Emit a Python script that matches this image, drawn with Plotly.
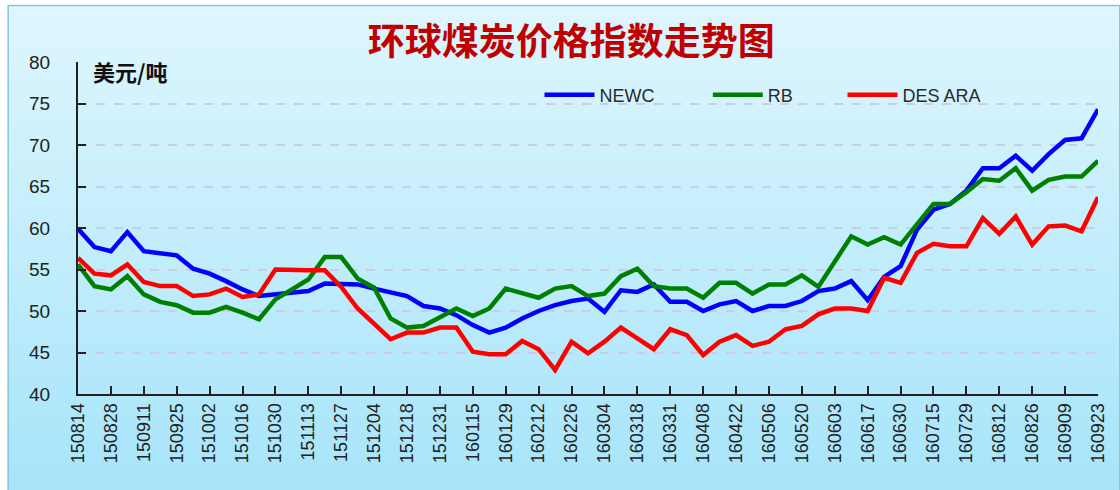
import plotly.graph_objects as go

tick_labels = ["150814", "150828", "150911", "150925", "151002", "151016", "151030", "151113",
               "151127", "151204", "151218", "151231", "160115", "160129", "160212", "160226",
               "160304", "160318", "160331", "160408", "160422", "160506", "160520", "160603",
               "160617", "160630", "160715", "160729", "160812", "160826", "160909", "160923"]

newc = [59.9, 57.7, 57.2, 59.5, 57.2, 57.0, 56.7, 55.1, 54.5, 53.6, 52.6, 51.8, 52.0, 52.2, 52.4, 53.3,
        53.2, 53.2, 52.7, 52.2, 51.8, 50.6, 50.3, 49.5, 48.3, 47.4, 48.0, 49.1, 50.0, 50.7, 51.2, 51.5,
        49.9, 52.5, 52.3, 53.2, 51.1, 51.1, 50.0, 50.8, 51.2, 50.0, 50.6, 50.6, 51.2, 52.4, 52.7, 53.6,
        51.3, 54.1, 55.4, 59.8, 62.2, 62.9, 64.5, 67.2, 67.2, 68.7, 66.9, 68.9, 70.6, 70.8, 74.3]

rb = [55.6, 53.0, 52.6, 54.2, 52.0, 51.1, 50.7, 49.8, 49.8, 50.5, 49.8, 49.0, 51.4, 52.6, 53.8, 56.5,
      56.5, 53.9, 52.8, 49.1, 48.0, 48.2, 49.2, 50.3, 49.4, 50.3, 52.7, 52.1, 51.6, 52.7, 53.0, 51.8,
      52.1, 54.2, 55.1, 53.0, 52.7, 52.7, 51.6, 53.4, 53.4, 52.1, 53.2, 53.2, 54.3, 52.9, 56.0, 59.0,
      58.0, 58.9, 58.0, 60.4, 62.9, 62.9, 64.3, 65.9, 65.7, 67.2, 64.5, 65.8, 66.2, 66.2, 68.1]

des_ara = [56.4, 54.5, 54.3, 55.6, 53.5, 53.0, 53.0, 51.8, 52.0, 52.7, 51.7, 52.0, 55.0, 54.9, 54.9, 54.9,
           52.9, 50.3, 48.5, 46.6, 47.4, 47.4, 48.0, 48.0, 45.1, 44.8, 44.8, 46.4, 45.4, 42.9, 46.3, 44.9,
           46.3, 48.0, 46.7, 45.4, 47.8, 47.1, 44.7, 46.3, 47.1, 45.8, 46.3, 47.8, 48.2, 49.6, 50.3, 50.3,
           50.0, 54.0, 53.4, 57.0, 58.1, 57.8, 57.8, 61.2, 59.3, 61.4, 58.0, 60.2, 60.3, 59.6, 63.7]

series_names = ["NEWC", "RB", "DES ARA"]
series_colors = ["#0000ff", "#008000", "#ff0000"]

W, H = 1120, 490
L, R, T, B = 78, 12, 62, 96
PW, PH = W - L - R, H - T - B


def px(x):
    return (x - L) / PW


def py(y):
    return (H - B - y) / PH


x_idx = list(range(len(newc)))

fig = go.Figure()
legend_ids = ["legend", "legend2", "legend3"]
for name, vals, col, lg in zip(series_names, [newc, rb, des_ara], series_colors, legend_ids):
    fig.add_trace(go.Scatter(x=x_idx, y=vals, mode="lines", name=name, showlegend=True,
                             line=dict(color=col, width=4.5), legend=lg))

# gradient background strips
shapes = []
top_c = (222, 246, 253)
bot_c = (166, 228, 250)
n = 60
y0s, y1s = 5, 500
for i in range(n):
    t = i / (n - 1)
    c = tuple(int(round(top_c[k] + (bot_c[k] - top_c[k]) * t)) for k in range(3))
    ya = y0s + (y1s - y0s) * i / n
    yb = y0s + (y1s - y0s) * (i + 1) / n + 1
    shapes.append(dict(type="rect", xref="paper", yref="paper", layer="below",
                       x0=px(7), x1=px(1130), y0=py(ya), y1=py(yb),
                       fillcolor="rgb(%d,%d,%d)" % c, line=dict(width=0)))
shapes.append(dict(type="rect", xref="paper", yref="paper", layer="below",
                   x0=px(7.5), x1=px(1130), y0=py(5.5), y1=py(500),
                   fillcolor="rgba(0,0,0,0)", line=dict(color="#86c6dc", width=1.5)))

font_family = "Liberation Sans, Arial, sans-serif"
leg_common = dict(orientation="h", xanchor="left", yanchor="middle", bgcolor="rgba(0,0,0,0)",
                  font=dict(family=font_family, size=18, color="#2a2a2a"), itemwidth=50,
                  y=py(95), visible=True)

fig.update_layout(
    width=W, height=H,
    showlegend=True,
    margin=dict(l=L, r=R, t=T, b=B, pad=0),
    paper_bgcolor="white",
    plot_bgcolor="rgba(0,0,0,0)",
    shapes=shapes,
    title=dict(text="<b>环球煤炭价格指数走势图</b>", x=px(576), xref="paper", xanchor="center",
               y=1 - 42 / H, yanchor="middle",
               font=dict(family="Noto Sans CJK SC", size=37, color="#c00000")),
    annotations=[dict(text="<b>美元/吨</b>", xref="paper", yref="paper", x=px(91), y=py(71),
                      xanchor="left", yanchor="middle", showarrow=False,
                      font=dict(family="Noto Sans CJK SC", size=22, color="#111111"))],
    xaxis=dict(range=[0, len(newc) - 1], tickmode="array",
               tickvals=x_idx[::2], ticktext=tick_labels, tickangle=-90,
               ticks="inside", ticklen=8, tickwidth=2, tickcolor="#222222",
               showline=True, linecolor="#222222", linewidth=2, showgrid=False, zeroline=False,
               tickfont=dict(family=font_family, size=18, color="#222222")),
    yaxis=dict(range=[40, 80], tickmode="linear", tick0=40, dtick=5,
               ticks="inside", ticklen=8, tickwidth=2, tickcolor="#222222",
               showline=True, linecolor="#222222", linewidth=2,
               showgrid=True, gridcolor="#c9cde8", griddash="dash", gridwidth=1.5,
               zeroline=False, ticklabelstandoff=22,
               tickfont=dict(family=font_family, size=19, color="#222222")),
    legend=dict(x=px(544), **leg_common),
    legend2=dict(x=px(714), **leg_common),
    legend3=dict(x=px(850), **leg_common),
)

fig.write_html("out.html", config={"displayModeBar": False},
               post_script="document.body.style.margin='0';")
